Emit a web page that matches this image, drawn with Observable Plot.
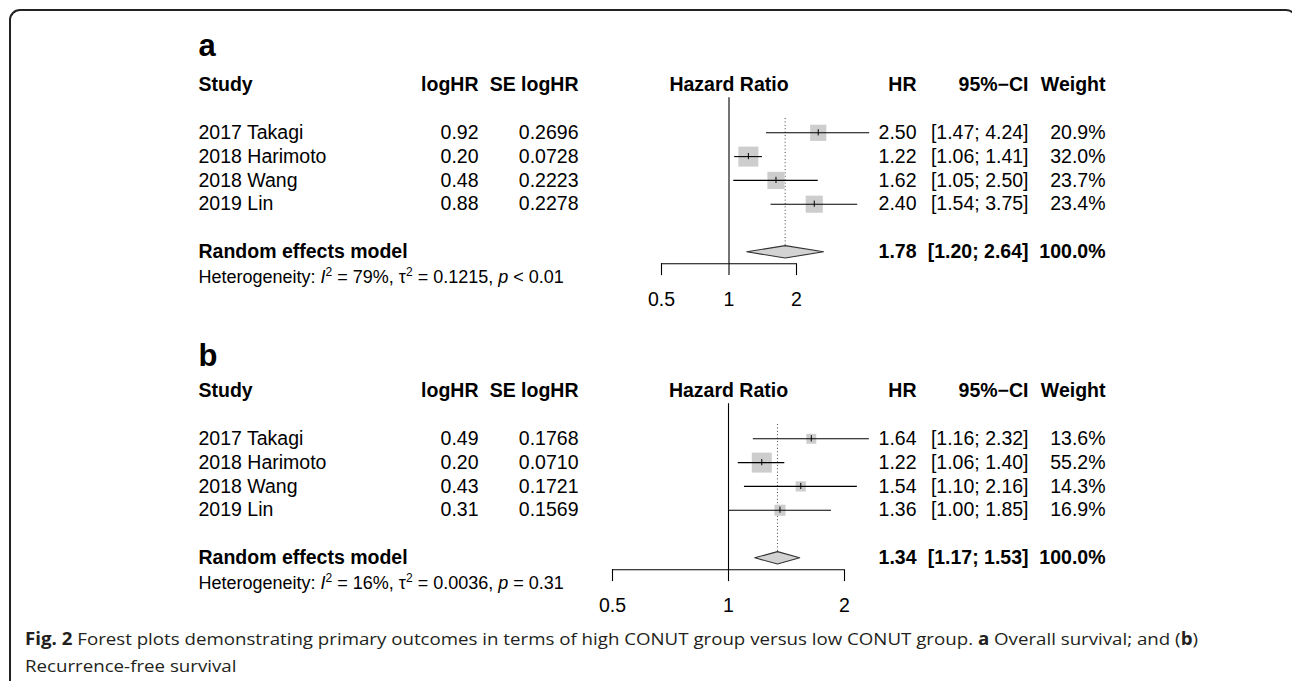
<!DOCTYPE html>
<html><head><meta charset="utf-8">
<script src="https://cdn.jsdelivr.net/npm/d3@7"></script>
<script src="https://cdn.jsdelivr.net/npm/@observablehq/plot@0.6"></script>
<style>
html,body{margin:0;padding:0;background:#fff;}
body{width:1292px;height:681px;overflow:hidden;position:relative;}
#frame{position:absolute;left:9px;top:9px;width:1288px;height:740px;border:2px solid #222;border-radius:11px;box-sizing:border-box;}
#pa{position:absolute;left:0;top:0;}
#pb{position:absolute;left:0;top:306px;}
#cap{position:absolute;left:25px;top:625px;font-family:"Open Sans",sans-serif;font-size:17px;line-height:27px;color:#231f20;white-space:nowrap;transform-origin:0 0;}
#cap b{font-weight:700;}
</style></head><body>
<div id="frame"></div>
<div id="pa"></div><div id="pb"></div>
<div id="cap"><span id="cap1"><b>Fig. 2</b> Forest plots demonstrating primary outcomes in terms of high CONUT group versus low CONUT group. <b>a</b> Overall survival; and (<b>b</b>)</span><br><span>Recurrence-free survival</span></div>
<script>
// ---- shared ----
const studies = ["2017 Takagi", "2018 Harimoto", "2018 Wang", "2019 Lin"];
const headers = ["Study", "logHR", "SE logHR", "Hazard Ratio", "HR", "95%\u2212CI", "Weight"];
const pooledLabel = "Random effects model";
const axisTicks = [0.5, 1, 2];

// ---- panel a: overall survival ----
const aLogHR = [0.92, 0.20, 0.48, 0.88];
const aSE = [0.2696, 0.0728, 0.2223, 0.2278];
const aHR = [2.50, 1.22, 1.62, 2.40];
const aLower = [1.47, 1.06, 1.05, 1.54];
const aUpper = [4.24, 1.41, 2.50, 3.75];
const aWeight = [20.9, 32.0, 23.7, 23.4];
const aPooled = [1.78, 1.20, 2.64];          // HR, lower, upper
const aHet = ["79%", "0.1215", "<", "0.01"]; // I2, tau2, p-relation, p

// ---- panel b: recurrence-free survival ----
const bLogHR = [0.49, 0.20, 0.43, 0.31];
const bSE = [0.1768, 0.0710, 0.1721, 0.1569];
const bHR = [1.64, 1.22, 1.54, 1.36];
const bLower = [1.16, 1.06, 1.10, 1.00];
const bUpper = [2.32, 1.40, 2.16, 1.85];
const bWeight = [13.6, 55.2, 14.3, 16.9];
const bPooled = [1.34, 1.17, 1.53];
const bHet = ["16%", "0.0036", "=", "0.31"];

const FONT = "'Liberation Sans', Arial, Helvetica, sans-serif";
const FS = 19.5;

function forest(el, cfg) {
  const rows = studies.map((s, i) => ({
    study: s, row: i + 2, logHR: cfg.logHR[i], se: cfg.se[i],
    hr: cfg.hr[i], lo: cfg.lower[i], hi: cfg.upper[i], w: cfg.weight[i]
  }));
  const [phr, plo, phi] = cfg.pooled;
  const pooled = [{row: 7, hr: phr, lo: plo, hi: phi}];
  const dh = 0.26;
  const diamond = [
    {x: plo, y: 7}, {x: phr, y: 7 - dh}, {x: phi, y: 7}, {x: phr, y: 7 + dh}, {x: plo, y: 7}
  ];
  const wmax = d3.max(cfg.weight);
  const L = (dx) => ({frameAnchor: "left", dx});
  const fmtCI = d => `[${d.lo.toFixed(2)}; ${d.hi.toFixed(2)}]`;
  const hetText = `Heterogeneity: I2 = ${cfg.het[0]}, \u03c42 = ${cfg.het[1]}, p ${cfg.het[2]} ${cfg.het[3]}`;

  const svg = Plot.plot({
    width: 1292, height: cfg.height,
    marginLeft: 0, marginRight: 0, marginTop: 0, marginBottom: 0,
    style: {fontFamily: FONT, fontSize: FS + "px", color: "#000", background: "transparent", overflow: "visible"},
    x: {type: "log", domain: [0.5, 2], range: cfg.xrange, axis: null},
    y: {type: "linear", domain: [0, 1], range: [84.7, 108.5], axis: null},
    r: {type: "sqrt", domain: [0, wmax], range: [0, 20 / Math.sqrt(Math.PI)]},
    marks: [
      // panel letter
      Plot.text([cfg.label], {...L(198), y: () => cfg.labelRow, text: d => d, textAnchor: "start", fontWeight: "bold", fontSize: 31}),
      // headers
      Plot.text([headers[0]], {...L(198), y: () => 0, text: d => d, textAnchor: "start", fontWeight: "bold"}),
      Plot.text([headers[1]], {...L(478), y: () => 0, text: d => d, textAnchor: "end", fontWeight: "bold"}),
      Plot.text([headers[2]], {...L(578), y: () => 0, text: d => d, textAnchor: "end", fontWeight: "bold"}),
      Plot.text([headers[3]], {x: () => 1, y: () => 0, text: d => d, textAnchor: "middle", fontWeight: "bold"}),
      Plot.text([headers[4]], {...L(916), y: () => 0, text: d => d, textAnchor: "end", fontWeight: "bold"}),
      Plot.text([headers[5]], {...L(1028), y: () => 0, text: d => d, textAnchor: "end", fontWeight: "bold"}),
      Plot.text([headers[6]], {...L(1105), y: () => 0, text: d => d, textAnchor: "end", fontWeight: "bold"}),
      // reference line at 1 and pooled dotted line
      Plot.ruleX([1], {y1: 0.525, y2: 7.5, stroke: "#000", strokeWidth: 1.1}),
      Plot.ruleX([phr], {y1: 1.4, y2: 7 - dh, stroke: "#444", strokeWidth: 1, strokeDasharray: "1,2.4"}),
      // squares, CI lines, estimate ticks
      Plot.dot(rows, {x: "hr", y: "row", r: "w", symbol: "square", fill: "#cdcdcd", stroke: "none"}),
      Plot.ruleY(rows, {y: "row", x1: "lo", x2: "hi", stroke: "#000", strokeWidth: 1.1}),
      Plot.ruleX(rows, {x: "hr", y1: d => d.row - 0.13, y2: d => d.row + 0.13, stroke: "#000", strokeWidth: 1}),
      // diamond
      Plot.line(diamond, {x: "x", y: "y", fill: "#d3d3d3", stroke: "#333", strokeWidth: 1.1, curve: "linear"}),
      // axis
      Plot.ruleY([7.5], {x1: 0.5, x2: 2, stroke: "#000", strokeWidth: 1.1}),
      Plot.ruleX(axisTicks, {x: d => d, y1: 7.5, y2: 8, stroke: "#000", strokeWidth: 1.1}),
      Plot.text(axisTicks, {x: d => d, y: () => 9, text: d => String(d), textAnchor: "middle"}),
      // study rows text
      Plot.text(rows, {...L(198), y: "row", text: "study", textAnchor: "start"}),
      Plot.text(rows, {...L(478), y: "row", text: d => d.logHR.toFixed(2), textAnchor: "end"}),
      Plot.text(rows, {...L(578), y: "row", text: d => d.se.toFixed(4), textAnchor: "end"}),
      Plot.text(rows, {...L(916), y: "row", text: d => d.hr.toFixed(2), textAnchor: "end"}),
      Plot.text(rows, {...L(1028), y: "row", text: fmtCI, textAnchor: "end"}),
      Plot.text(rows, {...L(1105), y: "row", text: d => d.w.toFixed(1) + "%", textAnchor: "end"}),
      // pooled row
      Plot.text([pooledLabel], {...L(198), y: () => 7, text: d => d, textAnchor: "start", fontWeight: "bold"}),
      Plot.text(pooled, {...L(916), y: "row", text: d => d.hr.toFixed(2), textAnchor: "end", fontWeight: "bold"}),
      Plot.text(pooled, {...L(1028), y: "row", text: fmtCI, textAnchor: "end", fontWeight: "bold"}),
      Plot.text(pooled, {...L(1105), y: "row", text: () => "100.0%", textAnchor: "end", fontWeight: "bold"}),
      // heterogeneity
      Plot.text([hetText], {...L(198), y: () => 8, dy: 2, text: d => d, textAnchor: "start", fontSize: 18})
    ]
  });

  // rich formatting for heterogeneity line (italic I, p and superscripts)
  d3.select(svg).selectAll("text").filter(function () {
    return this.textContent.startsWith("Heterogeneity");
  }).each(function () {
    const t = d3.select(this);
    t.text(null);
    t.append("tspan").text("Heterogeneity: ");
    t.append("tspan").attr("font-style", "italic").text("I");
    t.append("tspan").attr("font-size", "12px").attr("dy", "-7").text("2");
    t.append("tspan").attr("dy", "7").text(` = ${cfg.het[0]}, \u03c4`);
    t.append("tspan").attr("font-size", "12px").attr("dy", "-7").text("2");
    t.append("tspan").attr("dy", "7").text(` = ${cfg.het[1]}, `);
    t.append("tspan").attr("font-style", "italic").text("p");
    t.append("tspan").text(` ${cfg.het[2]} ${cfg.het[3]}`);
  });
  document.getElementById(el).appendChild(svg);
}

forest("pa", {label: "a", labelRow: -1.65, height: 306, xrange: [661, 796],
  logHR: aLogHR, se: aSE, hr: aHR, lower: aLower, upper: aUpper, weight: aWeight, pooled: aPooled, het: aHet});
forest("pb", {label: "b", labelRow: -1.48, height: 310, xrange: [612, 844],
  logHR: bLogHR, se: bSE, hr: bHR, lower: bLower, upper: bUpper, weight: bWeight, pooled: bPooled, het: bHet});

// condense caption to the reference line width
const cap = document.getElementById("cap");
const w1 = document.getElementById("cap1").getBoundingClientRect().width;
cap.style.transform = `scaleX(${1173 / w1})`;
</script>
</body></html>
